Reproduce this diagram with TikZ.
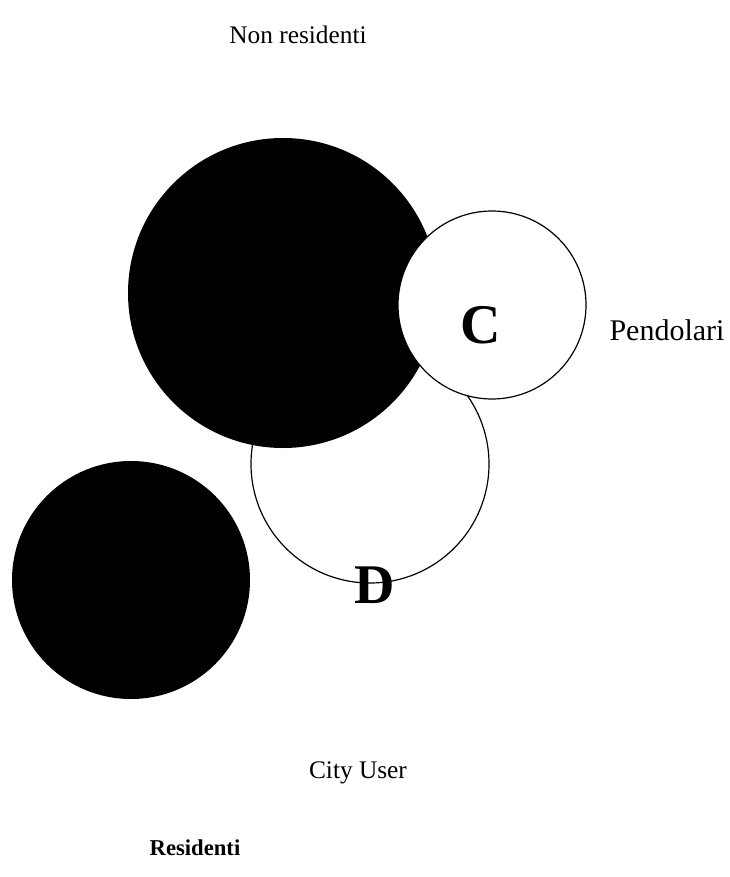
\documentclass[tikz,border=0pt]{standalone}
\usepackage{fontspec}
\setmainfont{Liberation Serif}

\begin{document}
\begin{tikzpicture}[x=0.75pt,y=-0.75pt,
  disc/.style={circle,fill=black,inner sep=0pt},
  ring/.style={circle,draw=black,fill=white,line width=0.9pt,inner sep=0pt},
  tag/.style={font=\fontsize{19}{22}\selectfont},
  letter/.style={font=\fontsize{42}{46}\selectfont\bfseries}]

  \useasboundingbox (0,0) rectangle (729,877);

  % gruppi
  \node[ring,minimum size=178.5pt] (cityuser) at (370,464) {};
  \node[disc,minimum size=232.5pt] (nonres) at (283,293) {};
  \node[ring,minimum size=141pt] (pend) at (492,305) {};
  \node[disc,minimum size=178.5pt] (res) at (131,580) {};

  \node[letter] (C) at (481,325) {C};
  \node[letter] (D) at (375,585) {D};

  % etichette
  \node[tag] (lnonres) at (298,35) {Non residenti};
  \node[tag,font=\fontsize{22.5}{26}\selectfont] (lpend) at (667,330) {Pendolari};
  \node[tag] (lcity) at (358,773) {City User};
  \node[tag,font=\fontsize{17}{20}\selectfont\bfseries] (lres) at (195,848) {Residenti};
\end{tikzpicture}
\end{document}
